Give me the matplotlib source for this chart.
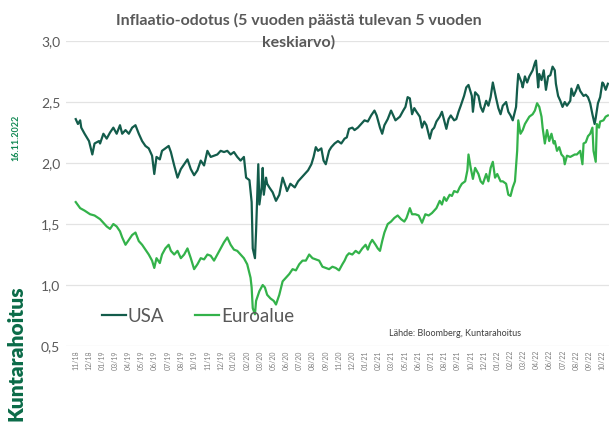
import numpy as np
import matplotlib
matplotlib.use("Agg")
import matplotlib.pyplot as plt

plt.rcParams['font.family'] = ['Lato', 'DejaVu Sans']

# ── Data (x = months since mid-Nov 2018) ─────────────────────────────────────
usa_m = [0.0, 0.2, 0.4, 0.5, 0.8, 1.2, 1.5, 1.7, 2.1, 2.2, 2.5, 2.8, 3.1, 3.4, 3.7,
         4.0, 4.2, 4.5, 4.8, 5.1, 5.4, 5.7, 6.0, 6.3, 6.6, 6.9, 7.1, 7.3, 7.6,
         7.8, 8.1, 8.4, 8.6, 8.9, 9.2, 9.5, 9.8, 10.1, 10.4, 10.7, 11.0, 11.3, 11.6,
         11.9, 12.2, 12.5, 12.8, 13.1, 13.4, 13.7, 14.0, 14.3, 14.6, 14.9, 15.2, 15.4,
         15.7, 15.9, 16.0, 16.2, 16.3, 16.4, 16.5, 16.6, 16.8, 16.9, 17.0, 17.2, 17.3,
         17.5, 17.8, 18.1, 18.4, 18.7, 19.0, 19.1, 19.4, 19.8, 20.1, 20.4, 20.7, 21.0,
         21.3, 21.5, 21.7, 21.9, 22.2, 22.4, 22.6, 22.9, 23.1, 23.4, 23.7, 24.0,
         24.3, 24.5, 24.7, 25.0, 25.2, 25.5, 25.8, 26.1, 26.4, 26.7, 27.0, 27.2, 27.5,
         27.7, 27.9, 28.2, 28.5, 28.7, 28.9, 29.3, 29.6, 29.8, 30.0, 30.2, 30.4, 30.6,
         30.8, 31.1, 31.3, 31.5, 31.7, 32.0, 32.2, 32.4, 32.6, 32.9, 33.1, 33.3, 33.5,
         33.7, 33.9, 34.2, 34.4, 34.6, 34.8, 35.1, 35.3, 35.5, 35.8, 35.9, 36.1, 36.4,
         36.6, 36.8, 37.1, 37.3, 37.5, 37.7, 38.0, 38.2, 38.4, 38.6, 38.9, 39.1, 39.3,
         39.5, 39.8, 39.9, 40.0, 40.3, 40.4, 40.6, 40.8, 41.0, 41.3, 41.5, 41.6, 41.8,
         41.9, 42.1, 42.3, 42.5, 42.7, 42.9, 43.1, 43.3, 43.4, 43.6, 43.8, 44.0, 44.2,
         44.4, 44.7, 44.8, 45.0, 45.2, 45.4, 45.6, 45.9, 46.1, 46.3, 46.5, 46.7, 46.9,
         47.0, 47.2, 47.4, 47.6, 47.7, 47.9, 48.1]
usa_v = [2.36, 2.32, 2.35, 2.29, 2.24, 2.18, 2.07, 2.16, 2.18, 2.16, 2.24, 2.20, 2.25, 2.29, 2.24,
         2.31, 2.24, 2.27, 2.24, 2.29, 2.31, 2.24, 2.18, 2.14, 2.12, 2.06, 1.91, 2.05, 2.03,
         2.10, 2.12, 2.14, 2.09, 1.98, 1.88, 1.95, 1.99, 2.03, 1.95, 1.90, 1.94, 2.02, 1.98,
         2.10, 2.05, 2.06, 2.07, 2.10, 2.09, 2.10, 2.07, 2.09, 2.05, 2.02, 2.05, 1.88,
         1.86, 1.68, 1.30, 1.22, 1.44, 1.72, 1.99, 1.66, 1.80, 1.96, 1.74, 1.88, 1.83,
         1.80, 1.76, 1.69, 1.74, 1.88, 1.80, 1.77, 1.83, 1.80, 1.85, 1.88, 1.91, 1.94,
         1.99, 2.05, 2.13, 2.10, 2.12, 2.02, 1.99, 2.10, 2.13, 2.16, 2.18, 2.16,
         2.20, 2.21, 2.28, 2.29, 2.27, 2.29, 2.32, 2.35, 2.34, 2.39, 2.43, 2.39, 2.29,
         2.24, 2.31, 2.36, 2.43, 2.39, 2.35, 2.38, 2.43, 2.46, 2.54, 2.53, 2.40, 2.45,
         2.42, 2.38, 2.29, 2.34, 2.31, 2.20, 2.27, 2.29, 2.34, 2.38, 2.42, 2.35, 2.28,
         2.36, 2.39, 2.35, 2.36, 2.42, 2.47, 2.55, 2.62, 2.64, 2.55, 2.42, 2.58, 2.55,
         2.46, 2.42, 2.51, 2.47, 2.54, 2.66, 2.53, 2.45, 2.40, 2.47, 2.50, 2.42, 2.39,
         2.35, 2.46, 2.61, 2.73, 2.66, 2.62, 2.71, 2.66, 2.71, 2.76, 2.82, 2.84, 2.62,
         2.73, 2.68, 2.76, 2.60, 2.71, 2.72, 2.79, 2.76, 2.65, 2.55, 2.51, 2.46, 2.50,
         2.47, 2.51, 2.61, 2.55, 2.59, 2.64, 2.59, 2.55, 2.56, 2.54, 2.49, 2.40, 2.32,
         2.37, 2.49, 2.54, 2.66, 2.65, 2.60, 2.65]

eur_m = [0.0, 0.4, 0.8, 1.3, 1.7, 2.2, 2.5, 2.8, 3.1, 3.4, 3.7, 4.0, 4.2, 4.5, 4.8,
         5.1, 5.4, 5.7, 6.0, 6.3, 6.6, 6.9, 7.1, 7.3, 7.6,
         7.8, 8.1, 8.4, 8.6, 8.9, 9.2, 9.5, 9.8, 10.1, 10.4, 10.7, 11.0, 11.3, 11.6,
         11.9, 12.2, 12.5, 12.8, 13.1, 13.4, 13.7, 14.0, 14.3, 14.6, 14.9, 15.2, 15.5,
         15.8, 15.9, 16.0, 16.2, 16.3, 16.6, 16.9, 17.1, 17.3, 17.6, 17.9, 18.1, 18.4,
         18.7, 19.0, 19.3, 19.6, 19.9, 20.2, 20.5, 20.8, 21.1, 21.4, 21.7, 22.0, 22.3,
         22.6, 22.9, 23.2, 23.5, 23.8, 24.1,
         24.3, 24.5, 24.7, 25.0, 25.3, 25.6, 25.9, 26.2, 26.4, 26.6, 26.8, 27.1, 27.3,
         27.5, 27.7, 27.9, 28.2, 28.5, 28.8, 29.1, 29.4, 29.7, 29.9, 30.2, 30.4, 30.7,
         31.0, 31.3, 31.6, 31.9, 32.2,
         32.6, 32.9, 33.1, 33.3, 33.5, 33.8, 34.0, 34.2, 34.5, 34.7, 34.9, 35.2, 35.4,
         35.5, 35.7, 35.9, 36.1, 36.4, 36.6, 36.8, 37.1, 37.3, 37.5, 37.7, 37.9, 38.1,
         38.4, 38.6, 38.9, 39.1, 39.3, 39.5, 39.7, 39.9, 40.0, 40.2,
         40.4, 40.6, 40.8, 41.0, 41.3, 41.5, 41.7, 41.9, 42.1, 42.2, 42.4, 42.6, 42.8,
         43.0, 43.2, 43.3, 43.5, 43.7, 43.9, 44.1, 44.2, 44.4, 44.7, 44.9, 45.1, 45.3,
         45.6, 45.8, 45.9, 46.1, 46.3, 46.5, 46.7, 46.8, 47.0, 47.1, 47.3, 47.4, 47.7,
         47.9, 48.1]
eur_v = [1.68, 1.63, 1.61, 1.58, 1.57, 1.54, 1.51, 1.48, 1.46, 1.50, 1.48, 1.44, 1.39, 1.33, 1.37,
         1.41, 1.43, 1.36, 1.33, 1.29, 1.25, 1.20, 1.14, 1.22, 1.18,
         1.25, 1.30, 1.33, 1.28, 1.25, 1.28, 1.22, 1.25, 1.30, 1.22, 1.13, 1.17, 1.22, 1.21,
         1.25, 1.24, 1.20, 1.25, 1.30, 1.35, 1.39, 1.33, 1.29, 1.28, 1.25, 1.22, 1.17,
         1.06, 0.98, 0.81, 0.76, 0.87, 0.95, 1.00, 0.98, 0.92, 0.89, 0.87, 0.84, 0.92,
         1.03, 1.06, 1.09, 1.13, 1.12, 1.17, 1.20, 1.20, 1.25, 1.22, 1.21, 1.20, 1.15,
         1.14, 1.13, 1.15, 1.14, 1.12, 1.17,
         1.20, 1.24, 1.26, 1.25, 1.28, 1.26, 1.30, 1.33, 1.29, 1.34, 1.37, 1.33, 1.30,
         1.28, 1.36, 1.43, 1.50, 1.52, 1.55, 1.57, 1.54, 1.52, 1.55, 1.63, 1.58, 1.58,
         1.57, 1.51, 1.58, 1.57, 1.59,
         1.63, 1.69, 1.66, 1.72, 1.69, 1.74, 1.73, 1.77, 1.76, 1.80, 1.83, 1.85, 1.94,
         2.07, 1.96, 1.87, 1.96, 1.91, 1.85, 1.83, 1.91, 1.85, 1.96, 2.01, 1.88, 1.91,
         1.85, 1.85, 1.83, 1.74, 1.73, 1.80, 1.85, 2.10, 2.35, 2.24,
         2.27, 2.32, 2.35, 2.38, 2.40, 2.43, 2.49, 2.46, 2.38, 2.29, 2.16, 2.27, 2.18,
         2.24, 2.16, 2.18, 2.10, 2.13, 2.07, 2.05, 1.99, 2.06, 2.05, 2.06, 2.07, 2.07,
         2.10, 1.99, 2.16, 2.17, 2.22, 2.24, 2.29, 2.10, 2.01, 2.32, 2.29, 2.34, 2.35,
         2.38, 2.39]

tick_labels = ['11/18', '12/18', '01/19', '03/19', '04/19', '05/19', '06/19', '07/19',
               '08/19', '10/19', '11/19', '12/19', '01/20', '02/20', '03/20', '05/20',
               '06/20', '07/20', '08/20', '09/20', '11/20', '12/20', '01/21', '02/21',
               '03/21', '05/21', '06/21', '07/21', '08/21', '09/21', '10/21', '12/21',
               '01/22', '02/22', '03/22', '04/22', '06/22', '07/22', '08/22', '09/22',
               '10/22']
y_ticks = [0.5, 1.0, 1.5, 2.0, 2.5, 3.0]

USA_COL = '#135c4b'
EUR_COL = '#33b24a'
TXT_COL = '#595959'

fig = plt.figure(figsize=(6.09, 4.23), dpi=100)
ax = fig.add_axes([0.108, 0.182, 0.892, 0.721])

ax.plot(usa_m, usa_v, color=USA_COL, lw=1.6, label='USA', zorder=3)
ax.plot(eur_m, eur_v, color=EUR_COL, lw=1.6, label='Euroalue', zorder=3)

ax.set_xlim(-0.9, 48.2)
ax.set_ylim(0.5, 3.0)
ax.set_yticks(y_ticks)
ax.set_yticklabels([f"{v:.1f}".replace('.', ',') for v in y_ticks],
                   fontsize=10, color=TXT_COL)
ax.set_xticks(np.linspace(0, 47.6, len(tick_labels)))
ax.set_xticklabels(tick_labels, rotation=90, fontsize=5, color='#7f7f7f')
ax.tick_params(axis='both', length=0, pad=4)
ax.tick_params(axis='x', pad=3)
ax.grid(axis='y', color='#e3e3e3', lw=0.9, zorder=0)
for s in ax.spines.values():
    s.set_visible(False)

# legend
ax.legend(loc='lower left', bbox_to_anchor=(0.035, 0.015), ncol=2, frameon=False,
          fontsize=13.5, handlelength=1.3, handletextpad=0.1, columnspacing=1.6,
          labelcolor=TXT_COL)

# title (overlaps top of the plot like the original)
fig.text(0.49, 0.927, "Inflaatio-odotus (5 vuoden päästä tulevan 5 vuoden\nkeskiarvo)",
         ha='center', va='center', fontsize=11.5, fontweight='bold', color=TXT_COL,
         linespacing=1.6)

fig.text(0.748, 0.212, "Lähde: Bloomberg, Kuntarahoitus", ha='center', va='center',
         fontsize=6.5, color='#404040')

# side branding
fig.text(0.026, 0.165, "Kuntarahoitus", rotation=90, ha='center', va='center',
         fontsize=15, fontweight='heavy', color='#0b6b48')
fig.text(0.026, 0.675, "16.11.2022", rotation=90, ha='center', va='center',
         fontsize=6.5, fontweight='bold', color='#138a55')

fig.savefig("out.png", dpi=100)
